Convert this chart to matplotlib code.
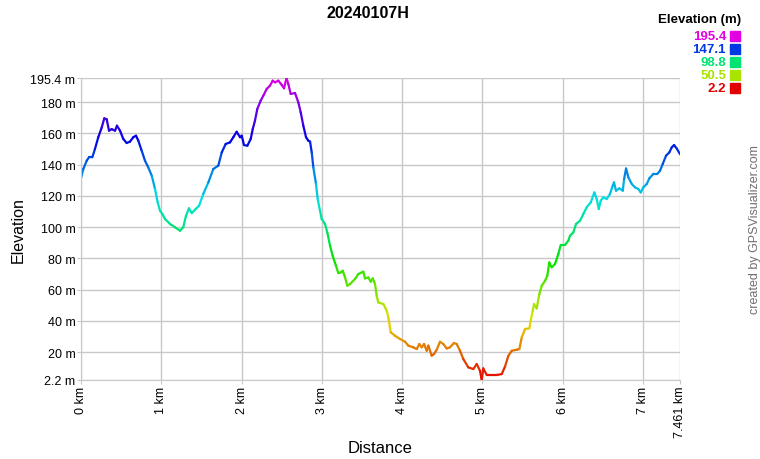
import colorsys
import numpy as np
import matplotlib
matplotlib.use("Agg")
import matplotlib.pyplot as plt
from matplotlib.collections import LineCollection

plt.rcParams['font.family'] = ['Liberation Sans', 'DejaVu Sans']

title = "20240107H"

# distance along the track (km) and elevation (m)
distance_km = [
    0.000, 0.029, 0.071, 0.100, 0.141, 0.174, 0.215, 0.258, 0.290, 0.320,
    0.349, 0.382, 0.424, 0.448, 0.486, 0.527, 0.569, 0.610, 0.651, 0.685,
    0.714, 0.756, 0.797, 0.838, 0.881, 0.922, 0.955, 0.984, 1.013, 1.046,
    1.109, 1.171, 1.233, 1.274, 1.308, 1.345, 1.379, 1.429, 1.470, 1.523,
    1.586, 1.648, 1.710, 1.753, 1.802, 1.856, 1.897, 1.939, 1.981, 2.002,
    2.030, 2.072, 2.114, 2.139, 2.167, 2.196, 2.238, 2.271, 2.313, 2.354,
    2.388, 2.417, 2.458, 2.500, 2.529, 2.560, 2.582, 2.612, 2.666, 2.707,
    2.737, 2.769, 2.803, 2.831, 2.853, 2.874, 2.894, 2.927, 2.948, 2.977,
    2.998, 3.039, 3.068, 3.102, 3.135, 3.176, 3.205, 3.235, 3.260, 3.289,
    3.317, 3.351, 3.413, 3.454, 3.516, 3.538, 3.579, 3.609, 3.634, 3.662,
    3.683, 3.703, 3.766, 3.808, 3.828, 3.858, 3.911, 3.974, 4.036, 4.077,
    4.139, 4.182, 4.214, 4.244, 4.273, 4.306, 4.326, 4.368, 4.397, 4.431,
    4.472, 4.513, 4.555, 4.596, 4.646, 4.680, 4.721, 4.762, 4.824, 4.887,
    4.929, 4.970, 4.991, 5.011, 5.054, 5.116, 5.178, 5.241, 5.282, 5.323,
    5.365, 5.428, 5.460, 5.490, 5.531, 5.585, 5.605, 5.627, 5.643, 5.676,
    5.709, 5.739, 5.780, 5.808, 5.833, 5.863, 5.904, 5.946, 5.975, 6.029,
    6.070, 6.091, 6.132, 6.166, 6.216, 6.257, 6.299, 6.349, 6.394, 6.424,
    6.449, 6.474, 6.506, 6.548, 6.589, 6.623, 6.639, 6.664, 6.706, 6.748,
    6.765, 6.789, 6.818, 6.860, 6.901, 6.942, 6.972, 7.004, 7.047, 7.079,
    7.129, 7.178, 7.212, 7.246, 7.287, 7.328, 7.358, 7.387, 7.420, 7.461,
]
elevation_m = [
    131.4, 137.2, 142.5, 144.7, 144.7, 150.0, 157.5, 163.7, 169.6, 169.0,
    161.7, 162.7, 161.7, 164.9, 161.7, 156.4, 153.8, 154.7, 157.5, 158.5,
    155.3, 148.9, 142.5, 138.2, 132.9, 124.4, 115.8, 110.5, 108.4, 105.2,
    102.0, 99.9, 97.7, 99.9, 107.3, 112.0, 109.0, 111.6, 113.7, 121.2,
    128.6, 137.2, 139.3, 147.8, 153.2, 154.2, 157.5, 161.0, 157.5, 158.5,
    152.5, 152.1, 156.4, 162.7, 168.1, 175.6, 180.9, 184.1, 188.4, 190.5,
    193.7, 192.6, 193.7, 191.0, 188.8, 195.4, 191.6, 185.2, 185.8, 179.8,
    173.4, 164.9, 157.5, 155.3, 154.7, 147.8, 138.2, 127.6, 118.0, 110.5,
    105.2, 102.0, 96.6, 88.1, 81.6, 75.3, 70.6, 71.0, 72.1, 67.8,
    62.5, 63.6, 66.8, 70.0, 71.5, 67.2, 67.8, 65.1, 67.2, 63.6,
    56.1, 51.8, 50.8, 46.5, 42.3, 32.7, 30.5, 28.4, 26.7, 24.2,
    23.1, 22.0, 25.2, 23.1, 25.2, 20.9, 24.2, 17.8, 18.8, 21.6,
    26.7, 25.2, 22.4, 23.1, 25.9, 25.2, 20.9, 15.6, 10.3, 9.2,
    12.4, 8.1, 2.2, 9.6, 5.4, 5.4, 5.4, 6.0, 10.9, 17.7,
    20.9, 21.6, 22.0, 29.5, 34.8, 35.3, 41.2, 46.5, 50.8, 48.0,
    57.2, 62.5, 65.7, 68.9, 77.4, 74.3, 76.4, 82.8, 88.6, 88.6,
    91.3, 94.5, 96.6, 102.0, 104.1, 108.4, 112.7, 115.8, 122.2, 118.0,
    111.6, 116.9, 119.1, 118.0, 121.2, 126.5, 128.6, 123.3, 124.8, 123.3,
    130.8, 137.5, 131.8, 127.6, 125.4, 124.4, 122.2, 125.4, 127.6, 131.2,
    134.0, 134.0, 136.1, 140.4, 145.7, 147.8, 151.0, 152.5, 150.3, 146.7,
]

y_ticks = [2.2, 20, 40, 60, 80, 100, 120, 140, 160, 180, 195.4]
x_ticks = [0, 1, 2, 3, 4, 5, 6, 7, 7.461]
legend_values = [195.4, 147.1, 98.8, 50.5, 2.2]

e_min, e_max = 2.2, 195.4


def elev_color(e):
    t = (e - e_min) / (e_max - e_min)
    return colorsys.hsv_to_rgb(t * 300 / 360, 1.0, 0.89)


fig = plt.figure(figsize=(7.6, 4.6), dpi=100)
ax = fig.add_axes([81 / 760, 1 - 381 / 460, 599 / 760, 302 / 460])

x = np.array(distance_km)
y = np.array(elevation_m)
pts = np.column_stack([x, y]).reshape(-1, 1, 2)
segs = np.concatenate([pts[:-1], pts[1:]], axis=1)
cols = [elev_color((a + b) / 2) for a, b in zip(y[:-1], y[1:])]
lc = LineCollection(segs, colors=cols, linewidths=1.6, capstyle='round', joinstyle='round')
ax.add_collection(lc)

ax.set_xlim(0, 7.461)
ax.set_ylim(e_min, e_max)
ax.set_yticks(y_ticks)
ax.set_yticklabels([f"{v:g} m" for v in y_ticks], fontsize=9)
ax.set_xticks(x_ticks)
ax.set_xticklabels([f"{v:g} km" for v in x_ticks], fontsize=9, rotation=90)
ax.grid(True, color='#c8c8c8', linewidth=1)
ax.set_axisbelow(True)
for s in ['top', 'right']:
    ax.spines[s].set_visible(False)
for s in ['left', 'bottom']:
    ax.spines[s].set_color('#c8c8c8')
ax.tick_params(axis='y', color='#c8c8c8', length=3, pad=1)
ax.tick_params(axis='x', color='#c8c8c8', length=3, pad=1)

fig.text(18 / 760, 1 - 230 / 460, "Elevation", fontsize=11.5, rotation=90, ha='center', va='center')
fig.text(380 / 760, 1 - 449 / 460, "Distance", fontsize=12, ha='center', va='center')

fig.text(368 / 760, 1 - 13 / 460, title, fontsize=11.5, fontweight='bold', ha='center', va='center')

# elevation colour legend
fig.text(741 / 760, 1 - 20 / 460, "Elevation (m)", fontsize=9.5, fontweight='bold', ha='right', va='center')
for i, v in enumerate(legend_values):
    yy = 1 - (37 + i * 13) / 460
    c = elev_color(v)
    fig.text(726 / 760, yy, f"{v:g}", fontsize=9.5, fontweight='bold', color=c, ha='right', va='center')
    fig.patches.append(plt.Rectangle((730 / 760, yy - 5 / 460), 10 / 760, 10 / 460,
                                     transform=fig.transFigure, color=c, figure=fig))

fig.text(755 / 760, 1 - 230 / 460, "created by GPSVisualizer.com", fontsize=9, color='#707070',
         rotation=90, ha='center', va='center')

fig.savefig("out.png", dpi=100)
